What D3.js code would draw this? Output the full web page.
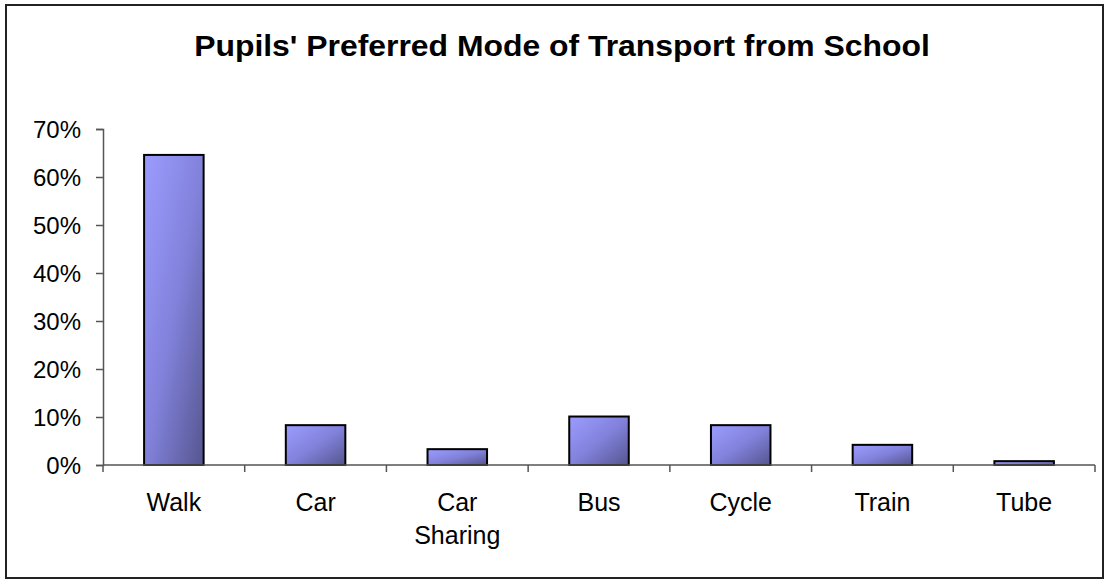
<!DOCTYPE html>
<html lang="en">
<head>
    <meta charset="UTF-8">
    <title>Pupils' Preferred Mode of Transport from School</title>
    <script src="https://cdn.jsdelivr.net/npm/d3@7"></script>
    <style>
        body { margin: 0; background: #fff; }
        text { font-family: "Liberation Sans", Arial, sans-serif; fill: #000; }
    </style>
</head>
<body>
<svg id="main" width="1109" height="583"></svg>
<script>
    // data
    const categories = ['Walk', 'Car', 'Car Sharing', 'Bus', 'Cycle', 'Train', 'Tube'];
    const shares = [0.646, 0.083, 0.033, 0.101, 0.083, 0.042, 0.008];
    const yTicks = [0, 0.1, 0.2, 0.3, 0.4, 0.5, 0.6, 0.7];

    const svg = d3.select('svg#main');
    const plotLeft = 103, plotRight = 1095, plotTop = 129, plotBottom = 465;

    // outer frame
    svg.append('rect')
        .attr('x', 6).attr('y', 5)
        .attr('width', 1097).attr('height', 573)
        .attr('fill', 'none')
        .attr('stroke', '#222')
        .attr('stroke-width', 2);

    // title, slightly stretched sideways like the original
    svg.append('text')
        .attr('transform', 'translate(562,56) scale(1.1,1)')
        .attr('text-anchor', 'middle')
        .style('font-size', '29px')
        .style('font-weight', 'bold')
        .text("Pupils' Preferred Mode of Transport from School");

    const defs = svg.append('defs');
    const grad = defs.append('linearGradient')
        .attr('id', 'barFill')
        .attr('x1', 0).attr('y1', 0).attr('x2', 1).attr('y2', 1);
    grad.append('stop').attr('offset', '0%').attr('stop-color', '#9c9cff');
    grad.append('stop').attr('offset', '50%').attr('stop-color', '#8282dc');
    grad.append('stop').attr('offset', '100%').attr('stop-color', '#55558f');

    let xScale = d3.scaleBand()
        .domain(categories)
        .range([plotLeft, plotRight])
        .paddingInner(0.58)
        .paddingOuter(0.29);
    let yScale = d3.scaleLinear()
        .domain([0, 0.7])
        .range([plotBottom, plotTop]);

    // bars
    svg.append('g').selectAll('rect')
        .data(categories)
        .enter()
        .append('rect')
        .attr('x', d => xScale(d))
        .attr('y', (d, i) => yScale(shares[i]))
        .attr('width', xScale.bandwidth())
        .attr('height', (d, i) => yScale(0) - yScale(shares[i]))
        .attr('fill', 'url(#barFill)')
        .attr('stroke', '#000')
        .attr('stroke-width', 2);

    // y axis
    let yAxis = svg.append('g')
        .attr('transform', 'translate(' + plotLeft + ',0)')
        .call(d3.axisLeft(yScale).tickValues(yTicks).tickFormat(d3.format('.0%')).tickSize(7).tickPadding(15));
    yAxis.selectAll('text').style('font-size', '24px').attr('dy', '0.36em');
    yAxis.selectAll('path, line').attr('stroke', '#555').attr('stroke-width', 1.5);

    // x axis with ticks between categories
    const step = xScale.step();
    const edges = d3.range(categories.length + 1).map(i => plotLeft + i * step);
    let xAxis = svg.append('g');
    xAxis.append('line')
        .attr('x1', plotLeft).attr('x2', plotRight)
        .attr('y1', plotBottom).attr('y2', plotBottom)
        .attr('stroke', '#555').attr('stroke-width', 1.5);
    xAxis.selectAll('.edge')
        .data(edges)
        .enter()
        .append('line')
        .attr('class', 'edge')
        .attr('x1', d => d).attr('x2', d => d)
        .attr('y1', plotBottom).attr('y2', plotBottom + 7)
        .attr('stroke', '#555').attr('stroke-width', 1.5);

    let labels = xAxis.selectAll('.cat')
        .data(categories)
        .enter()
        .append('text')
        .attr('class', 'cat')
        .attr('text-anchor', 'middle')
        .attr('x', d => xScale(d) + xScale.bandwidth() / 2)
        .attr('y', 511)
        .style('font-size', '25px');
    labels.each(function(d) {
        const words = d.split(' ');
        d3.select(this).selectAll('tspan')
            .data(words)
            .enter()
            .append('tspan')
            .attr('x', xScale(d) + xScale.bandwidth() / 2)
            .attr('dy', (w, i) => i === 0 ? 0 : 33)
            .text(w => w);
    });
</script>
</body>
</html>
